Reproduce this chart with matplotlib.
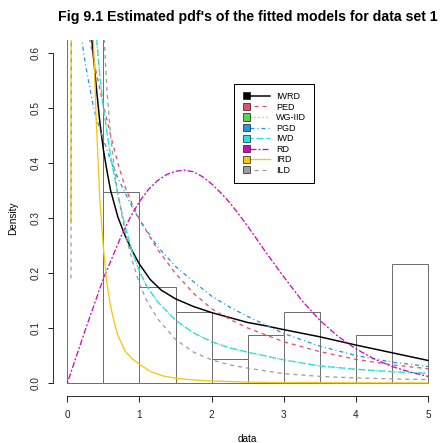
import matplotlib.pyplot as plt
from matplotlib.lines import Line2D
from matplotlib.patches import Rectangle
from matplotlib.legend_handler import HandlerBase

plt.rcParams["font.family"] = ["Liberation Sans", "DejaVu Sans"]
plt.rcParams["lines.scale_dashes"] = False

# ---------------- data ----------------
bin_left = [0.0, 0.5, 1.0, 1.5, 2.0, 2.5, 3.0, 3.5, 4.0, 4.5]
bin_density = [0.78, 0.348, 0.174, 0.13, 0.0435, 0.087, 0.13, 0.0, 0.087, 0.217]

iwrd_x = [0.25, 0.30, 0.34, 0.40, 0.45, 0.50, 0.55, 0.60, 0.70, 0.80, 0.90, 1.00,
          1.15, 1.30, 1.50, 1.75, 2.00, 2.25, 2.50, 2.75, 3.00, 3.50, 4.00, 4.50, 5.00]
iwrd_y = [0.86, 0.72, 0.624, 0.54, 0.475, 0.424, 0.385, 0.35, 0.302, 0.268, 0.24, 0.216,
          0.188, 0.169, 0.153, 0.139, 0.128, 0.119, 0.11, 0.104, 0.097, 0.084, 0.069, 0.055, 0.041]

ped_x = [0.20, 0.30, 0.40, 0.50, 0.60, 0.70, 0.80, 0.90, 1.00, 1.25, 1.50, 1.75,
         2.00, 2.25, 2.50, 3.00, 3.50, 4.00, 4.50, 5.00]
ped_y = [0.70, 0.632, 0.565, 0.505, 0.45, 0.40, 0.357, 0.325, 0.297, 0.243, 0.199, 0.163,
         0.135, 0.116, 0.10, 0.075, 0.057, 0.043, 0.033, 0.026]

pgd_x = [0.10, 0.20, 0.25, 0.30, 0.35, 0.40, 0.50, 0.60, 0.70, 0.80, 0.90, 1.00,
         1.25, 1.50, 1.75, 2.00, 2.25, 2.50, 3.00, 3.50, 4.00, 4.50, 5.00]
pgd_y = [0.74, 0.624, 0.58, 0.545, 0.51, 0.482, 0.443, 0.405, 0.373, 0.346, 0.32, 0.297,
         0.248, 0.212, 0.184, 0.158, 0.138, 0.121, 0.09, 0.067, 0.05, 0.038, 0.03]

iwd_x = [0.35, 0.407, 0.45, 0.50, 0.55, 0.60, 0.70, 0.80, 0.90, 1.00, 1.10, 1.25,
         1.50, 1.75, 2.00, 2.25, 2.50, 3.00, 3.50, 4.00, 4.50, 5.00]
iwd_y = [0.76, 0.624, 0.56, 0.50, 0.455, 0.412, 0.342, 0.285, 0.238, 0.203, 0.176, 0.148,
         0.114, 0.091, 0.075, 0.064, 0.056, 0.042, 0.031, 0.025, 0.0205, 0.0176]

# WG-IID sits under the IWD curve
wgiid_x = list(iwd_x)
wgiid_y = list(iwd_y)

rd_x = [0.0, 0.25, 0.5, 0.75, 0.875, 1.0, 1.125, 1.25, 1.375, 1.5, 1.625, 1.75, 1.875,
        2.0, 2.125, 2.25, 2.375, 2.5, 2.75, 3.0, 3.25, 3.5, 3.75, 4.0, 4.25, 4.5, 4.75, 5.0]
rd_y = [0.0, 0.097, 0.19, 0.268, 0.302, 0.33, 0.352, 0.368, 0.379, 0.385, 0.387, 0.384, 0.375,
        0.362, 0.346, 0.328, 0.307, 0.285, 0.238, 0.193, 0.15, 0.114, 0.085, 0.062, 0.044,
        0.03, 0.02, 0.012]

ird_x = [0.05, 0.10, 0.20, 0.30, 0.33, 0.36, 0.40, 0.45, 0.50, 0.55, 0.60, 0.65, 0.70,
         0.80, 0.90, 1.00, 1.15, 1.33, 1.50, 1.75, 2.00, 2.50, 3.00, 4.00, 5.00]
ird_y = [0.29, 6.0, 2.9, 1.1, 0.82, 0.63, 0.48, 0.335, 0.245, 0.18, 0.14, 0.11, 0.087,
         0.058, 0.044, 0.034, 0.021, 0.0127, 0.0088, 0.0055, 0.0037, 0.0015, 0.0008, 0.0003, 0.0001]

ild_x = [0.05, 0.10, 0.20, 0.30, 0.40, 0.48, 0.513, 0.55, 0.60, 0.65, 0.70, 0.80, 0.90,
         1.00, 1.10, 1.25, 1.50, 1.75, 2.00, 2.25, 2.50, 3.00, 3.50, 4.00, 4.50, 5.00]
ild_y = [0.19, 3.5, 3.6, 1.9, 1.1, 0.72, 0.624, 0.53, 0.45, 0.392, 0.345, 0.275, 0.222,
         0.18, 0.15, 0.117, 0.079, 0.056, 0.042, 0.033, 0.027, 0.017, 0.012, 0.0092, 0.0075, 0.0062]

models = ["IWRD", "PED", "WG-IID", "PGD", "IWD", "RD", "IRD", "ILD"]
colors = ["black", "#DF536B", "#61D04F", "#2297E6", "#28E2E5", "#CD0BBC", "#F5C710", "#9E9E9E"]
dashes = ["-", (0, (4, 4)), (0, (1, 3)), (0, (1, 3, 4, 3)), (0, (7, 3)),
          (0, (2, 2, 6, 2)), "-", (0, (4, 4))]
curves = [(iwrd_x, iwrd_y), (ped_x, ped_y), (wgiid_x, wgiid_y), (pgd_x, pgd_y),
          (iwd_x, iwd_y), (rd_x, rd_y), (ird_x, ird_y), (ild_x, ild_y)]


class BoxLineHandler(HandlerBase):
    # R style legend key: small filled square followed by the line
    def create_artists(self, legend, orig_handle, xdescent, ydescent,
                       width, height, fontsize, trans):
        yc = (height - ydescent) / 2
        size = 0.78 * fontsize
        x0 = -xdescent
        line = Line2D([x0 + size / 2, x0 + width], [yc, yc])
        line.update_from(orig_handle)
        line.set_transform(trans)
        box = Rectangle((x0, yc - size / 2), size, size,
                        facecolor=orig_handle.get_color(), edgecolor="black",
                        linewidth=0.6, transform=trans)
        return [line, box]


fig = plt.figure(figsize=(441 / 72, 443 / 72), dpi=72)
ax = fig.add_axes([52.9 / 441, (443 - 396.2) / 443, 389.6 / 441, 356.4 / 443])

ax.bar(bin_left, bin_density, width=0.5, align="edge", fill=False,
       edgecolor="#707070", linewidth=1.0)

handles = []
for (xs, ys), name, col, ls in zip(curves, models, colors, dashes):
    lw = 1.5 if name == "IWRD" else 1.3
    ax.plot(xs, ys, color=col, linestyle=ls, linewidth=lw)
    handles.append(Line2D([], [], color=col, linestyle=ls, linewidth=lw, label=name))

ax.set_xlim(-0.2, 5.2)
ax.set_ylim(-0.024, 0.624)

ax.spines["top"].set_visible(False)
ax.spines["right"].set_visible(False)
ax.spines["left"].set_bounds(0, 0.6)
ax.spines["bottom"].set_bounds(0, 5)

ax.set_xticks([0, 1, 2, 3, 4, 5])
ax.set_yticks([0.0, 0.1, 0.2, 0.3, 0.4, 0.5, 0.6])
ax.set_yticklabels(["0.0", "0.1", "0.2", "0.3", "0.4", "0.5", "0.6"])
ax.tick_params(axis="both", length=5.5, width=1, labelsize=10, colors="#222222")
ax.tick_params(axis="x", pad=8)
ax.tick_params(axis="y", pad=7)
for lab in ax.get_yticklabels():
    lab.set_rotation(90)
    lab.set_va("center")

ax.set_xlabel("data", fontsize=10, labelpad=14)
ax.set_ylabel("Density", fontsize=10, labelpad=12)
ax.set_title("Fig 9.1 Estimated pdf's of the fitted models for data set 1",
             fontsize=14.1, fontweight="bold", pad=18.8)

leg = ax.legend(handles=handles, handler_map={Line2D: BoxLineHandler()},
                loc="upper left", bbox_to_anchor=(0.466, 0.876), borderaxespad=0,
                fontsize=9, handlelength=3.0, handletextpad=0.7, labelspacing=0.17,
                borderpad=0.9, fancybox=False, framealpha=1, edgecolor="black")
leg.get_frame().set_linewidth(1.0)

fig.savefig("out.png", dpi=72)
